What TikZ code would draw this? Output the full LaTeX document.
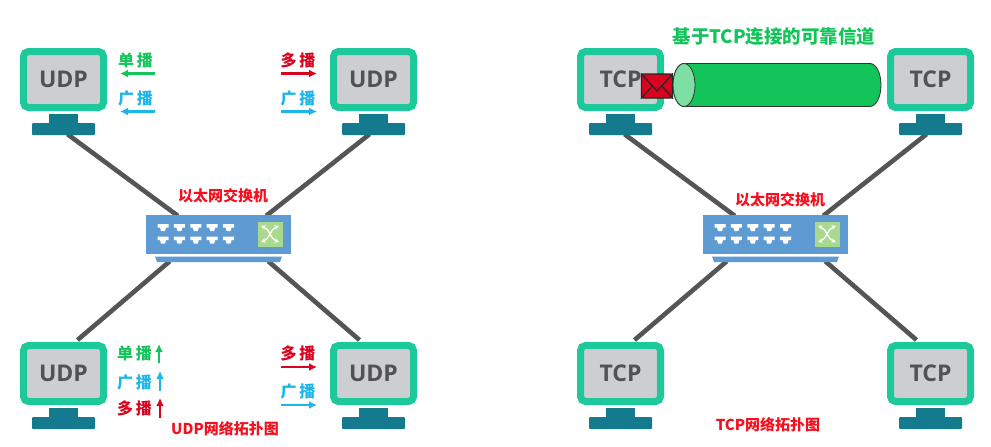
\documentclass[tikz,border=0pt]{standalone}
\usepackage{fontspec}
\setmainfont{Open Sans}
\newfontfamily\cjkf{Noto Sans CJK SC}
\newcommand{\cjk}{\cjkf\bfseries}
\usetikzlibrary{arrows.meta,calc,backgrounds}
\definecolor{monG}{HTML}{1DC99B}
\definecolor{scr}{HTML}{CDCED2}
\definecolor{std}{HTML}{147B8F}
\definecolor{lnk}{HTML}{555555}
\definecolor{swB}{HTML}{5F9BD3}
\definecolor{swG}{HTML}{A9D98C}
\definecolor{cG}{HTML}{12C45A}
\definecolor{cB}{HTML}{1DB6EA}
\definecolor{cR}{HTML}{D9021F}
\definecolor{lbl}{HTML}{F5101F}
\tikzset{
 x=1pt,y=-1pt,
 monitor/.style={draw=monG,line width=7pt,fill=scr,rounded corners=5pt,minimum width=80pt,minimum height=56pt,inner sep=0pt,
   text=black!68,font=\fontsize{23}{23}\selectfont\bfseries},
 neck/.style={fill=std,draw=none,minimum width=29pt,minimum height=11pt,inner sep=0pt},
 base/.style={fill=std,draw=none,rounded corners=1pt,minimum width=63pt,minimum height=12pt,inner sep=0pt},
 link/.style={draw=lnk,line width=4.6pt},
 swbody/.style={fill=swB,draw=none,minimum width=145pt,minimum height=39pt,inner sep=0pt},
 swicon/.style={fill=swG,draw=none,minimum size=25pt,inner sep=0pt},
 swfoot/.style={fill=swB,draw=none},
 port/.style={fill=white,draw=none},
 swarr/.style={draw=white,line width=1.3pt,{Stealth[length=4.5pt,width=4.5pt]}-{Stealth[length=4.5pt,width=4.5pt]}},
 redlabel/.style={text=lbl,font=\cjk\fontsize{15}{16}\selectfont,inner sep=0pt},
 tag/.style={font=\cjk\fontsize{16}{17}\selectfont,inner sep=0pt},
 castarrow/.style={line width=2.2pt,-{Latex[length=8pt,width=8pt]}},
}
\newcommand{\computer}[4]{% name, centre x, top y, label
 \node[monitor] (#1) at (#2,#3+31.5) {\raisebox{-2pt}{#4}};
 \node[neck] (#1n) at (#2,#3+71) {};
 \node[base] (#1b) at (#2,#3+81) {};
}
\newcommand{\switch}[2]{% name, left x
 \begin{scope}[xshift=#2pt]
 \node[swbody] (#1) at (72.5,234.5) {};
 \fill[white] (0,254) rectangle (145,256.5);
 \fill[swfoot] (9,256.5) -- (136,256.5) -- (134,262) -- (11,262) -- cycle;
 \node[swicon] (#1i) at (124,234) {};
 \draw[swarr] (115,226) .. controls (124,229) and (124,239) .. (133,242);
 \draw[swarr] (115,242) .. controls (124,239) and (124,229) .. (133,226);
 \foreach \i in {0,...,4}\foreach \y in {224,236.5}{
   \fill[port] (11.5+16.4*\i,\y) -- ++(11,0) -- ++(0,3.5) -- ++(-2.5,0) -- ++(-1,3.5) -- ++(-4,0) -- ++(-1,-3.5) -- ++(-2.5,0) -- cycle;
 }
 \end{scope}
}
\newcommand{\tagarrow}[5]{% name,colour,text,x,y
 \node[tag,text=#2] (#1) at (#4,#5) {#3};
}
\begin{document}
\begin{tikzpicture}
\useasboundingbox (0,0) rectangle (991,447);

\computer{u1}{63.5}{48}{UDP}
\computer{u2}{373.5}{48}{UDP}
\computer{u3}{63.5}{342}{UDP}
\computer{u4}{373.5}{342}{UDP}
\computer{t1}{620.5}{48}{TCP}
\computer{t2}{930.5}{48}{TCP}
\computer{t3}{620.5}{342}{TCP}
\computer{t4}{930.5}{342}{TCP}

\switch{swU}{146}
\switch{swT}{703}

\begin{scope}[on background layer]
\draw[link] ($(u1b.south)+(4,-1)$) -- ($(swU.north west)+(32,1)$);
\draw[link] ($(u2b.south)+(-4,-1)$) -- ($(swU.north east)+(-25,1)$);
\draw[link] ($(u3.north)+(14,-2)$) -- ($(swU.south west)+(24,7)$);
\draw[link] ($(u4.north)+(-14,-2)$) -- ($(swU.south east)+(-23,7)$);
\draw[link] ($(t1b.south)+(4,-1)$) -- ($(swT.north west)+(32,1)$);
\draw[link] ($(t2b.south)+(-4,-1)$) -- ($(swT.north east)+(-25,1)$);
\draw[link] ($(t3.north)+(14,-2)$) -- ($(swT.south west)+(24,7)$);
\draw[link] ($(t4.north)+(-14,-2)$) -- ($(swT.south east)+(-23,7)$);
\end{scope}

\node[redlabel] (lu) at (223,196) {以太网交换机};
\node[redlabel] (lt) at (780,200) {以太网交换机};
\node[redlabel] (cu) at (225,429) {UDP网络拓扑图};
\node[redlabel] (ct) at (768,424.5) {TCP网络拓扑图};

\tagarrow{a1}{cG}{单\,播}{135.5}{60}
\coordinate (e1a) at (155,73.5); \coordinate (e1b) at (120,73.5);
\draw[cG,castarrow] (e1a) -- (e1b);
\tagarrow{a2}{cB}{广\,播}{135.5}{98}
\coordinate (e2a) at (155,111.5); \coordinate (e2b) at (120,111.5);
\draw[cB,castarrow] (e2a) -- (e2b);
\tagarrow{a3}{cR}{多\,播}{298}{60}
\coordinate (e3a) at (281,73.5); \coordinate (e3b) at (317,73.5);
\draw[cR,castarrow] (e3a) -- (e3b);
\tagarrow{a4}{cB}{广\,播}{298}{98}
\coordinate (e4a) at (281,111.5); \coordinate (e4b) at (317,111.5);
\draw[cB,castarrow] (e4a) -- (e4b);
\tagarrow{a5}{cG}{单\,播}{134.5}{353}
\coordinate (e5a) at (159,363); \coordinate (e5b) at (159,344);
\draw[cG,castarrow] (e5a) -- (e5b);
\tagarrow{a6}{cB}{广\,播}{134.5}{382}
\coordinate (e6a) at (160,391); \coordinate (e6b) at (160,371);
\draw[cB,castarrow] (e6a) -- (e6b);
\tagarrow{a7}{cR}{多\,播}{134.5}{408}
\coordinate (e7a) at (160,418); \coordinate (e7b) at (160,398);
\draw[cR,castarrow] (e7a) -- (e7b);
\tagarrow{a8}{cR}{多\,播}{298}{353}
\coordinate (e8a) at (281,367); \coordinate (e8b) at (317,367);
\draw[cR,castarrow] (e8a) -- (e8b);
\tagarrow{a9}{cB}{广\,播}{298}{391}
\coordinate (e9a) at (281,405); \coordinate (e9b) at (317,405);
\draw[cB,castarrow] (e9a) -- (e9b);

\node[font=\cjk\fontsize{18.5}{19}\selectfont,text=cG,inner sep=0pt] (title) at (774,36.5) {基于TCP连接的可靠信道};
\fill[cG,draw=black!80,line width=0.8pt] (684,63.5) -- (870,63.5) arc[start angle=-90,end angle=90,x radius=11,y radius=21.5] -- (684,106.5) arc[start angle=90,end angle=270,x radius=11,y radius=21.5] -- cycle;
\fill[fill=cG!55!white,draw=black!80,line width=0.8pt] (684,63.5) arc[start angle=-90,end angle=270,x radius=11,y radius=21.5];
\node[fill=cR,draw=black!85,line width=1.2pt,rounded corners=1.5pt,minimum width=31pt,minimum height=24pt,inner sep=0pt] (env) at (657,86) {};
\draw[black!85,line width=1.2pt] (env.north west) -- ($(env.center)+(0,5)$) -- (env.north east);
\draw[black!85,line width=1.2pt] (env.south west) -- ($(env.center)+(-5,0)$);
\draw[black!85,line width=1.2pt] (env.south east) -- ($(env.center)+(5,0)$);
\end{tikzpicture}
\end{document}
